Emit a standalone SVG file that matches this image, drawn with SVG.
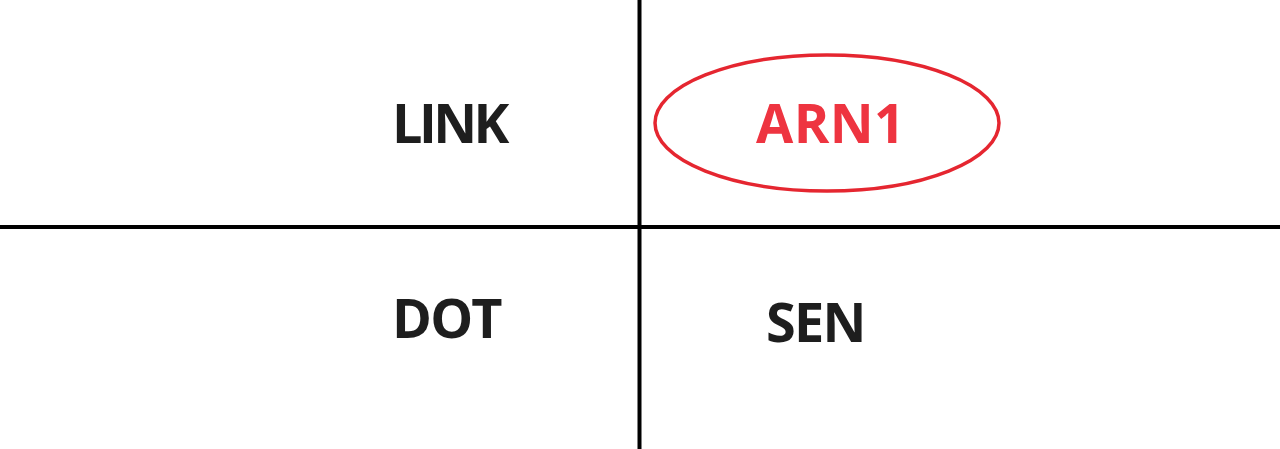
<svg xmlns="http://www.w3.org/2000/svg" width="1280" height="449" viewBox="0 0 1280 449">
<style>
.t{font-family:"Open Sans","Liberation Sans",sans-serif;font-weight:700;font-size:54px;fill:#1e1e1e;letter-spacing:-1.8px}
.r{fill:#ee3440}
.ln{stroke:#000;stroke-width:4}
</style>
<rect width="1280" height="449" fill="#fff"/>
<g id="connectors">
<line class="ln" x1="639.5" y1="0" x2="639.5" y2="449"/>
<line class="ln" x1="0" y1="227" x2="1280" y2="227"/>
</g>
<g id="link"><text class="t" x="392" y="143" style="letter-spacing:-3.6px">LINK</text></g>
<g id="arn1">
<ellipse cx="827" cy="123" rx="172" ry="68" fill="none" stroke="#e52630" stroke-width="3.5"/>
<text class="t r" x="756" y="143" style="letter-spacing:0.4px">ARN1</text>
</g>
<g id="dot"><text class="t" x="392" y="338">DOT</text></g>
<g id="sen"><text class="t" x="766" y="342">SEN</text></g>
</svg>
